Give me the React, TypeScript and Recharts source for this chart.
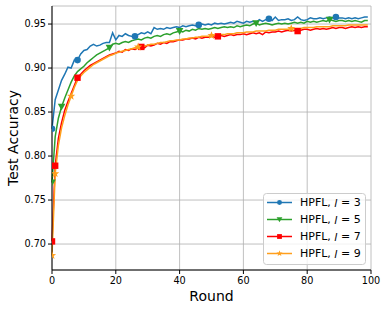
import { LineChart, Line, XAxis, YAxis, CartesianGrid, Legend } from 'recharts';

const rounds = Array.from({ length: 100 }, (_, i) => i);

const accL3 = [
  0.831, 0.864, 0.875, 0.886, 0.893, 0.901, 0.9, 0.909, 0.909, 0.916,
  0.92, 0.921, 0.925, 0.927, 0.925, 0.926, 0.928, 0.929, 0.929, 0.94,
  0.932, 0.937, 0.936, 0.939, 0.937, 0.936, 0.936, 0.938, 0.94, 0.939,
  0.941, 0.939, 0.946, 0.944, 0.945, 0.944, 0.946, 0.945, 0.946, 0.947,
  0.946, 0.948, 0.947, 0.948, 0.949, 0.948, 0.949, 0.95, 0.949, 0.95,
  0.949, 0.951, 0.95, 0.951, 0.95, 0.951, 0.952, 0.951, 0.953, 0.952,
  0.951, 0.953, 0.952, 0.953, 0.952, 0.955, 0.953, 0.955, 0.956, 0.954,
  0.958, 0.954, 0.955, 0.955, 0.956, 0.954, 0.955, 0.958, 0.955, 0.954,
  0.955, 0.957, 0.956, 0.956, 0.957, 0.956, 0.957, 0.958, 0.957, 0.958,
  0.957, 0.957, 0.956, 0.957, 0.956, 0.957, 0.956, 0.957, 0.958, 0.958,
];

const accL5 = [
  0.77, 0.822, 0.843, 0.856, 0.866, 0.875, 0.884, 0.891, 0.896, 0.899,
  0.902, 0.906, 0.909, 0.912, 0.915, 0.917, 0.919, 0.921, 0.923, 0.927,
  0.928, 0.927, 0.929, 0.93, 0.929, 0.931, 0.932, 0.933, 0.932, 0.934,
  0.935, 0.934, 0.936, 0.937, 0.936, 0.938, 0.939, 0.938, 0.94, 0.941,
  0.942, 0.941, 0.943, 0.942, 0.944, 0.943, 0.945, 0.944, 0.945, 0.944,
  0.945, 0.946, 0.945, 0.946, 0.947, 0.946, 0.947, 0.946, 0.948, 0.947,
  0.948, 0.949, 0.948, 0.95, 0.951, 0.949, 0.95, 0.951, 0.95, 0.949,
  0.95, 0.951, 0.95, 0.951, 0.95, 0.951, 0.952, 0.951, 0.952, 0.951,
  0.953, 0.952, 0.953, 0.952, 0.953, 0.954, 0.953, 0.955, 0.954, 0.953,
  0.954, 0.954, 0.953, 0.954, 0.953, 0.954, 0.953, 0.952, 0.954, 0.954,
];

const accL7 = [
  0.703, 0.789, 0.82, 0.838, 0.852, 0.862, 0.871, 0.88, 0.889, 0.893,
  0.897, 0.9, 0.903, 0.905, 0.907, 0.909, 0.911, 0.913, 0.915, 0.916,
  0.917, 0.919, 0.918, 0.921, 0.92, 0.922, 0.921, 0.923, 0.924, 0.923,
  0.926, 0.925, 0.926, 0.928, 0.927, 0.929, 0.928, 0.93, 0.93, 0.931,
  0.932, 0.932, 0.933, 0.933, 0.934, 0.933, 0.935, 0.934, 0.935, 0.935,
  0.936, 0.935, 0.936, 0.937, 0.936, 0.937, 0.938, 0.937, 0.938, 0.938,
  0.939, 0.938, 0.939, 0.94, 0.939, 0.94, 0.938, 0.941, 0.94, 0.941,
  0.941, 0.942, 0.941, 0.942, 0.943, 0.942, 0.943, 0.942, 0.943, 0.944,
  0.944, 0.943, 0.944, 0.945, 0.944, 0.945, 0.944, 0.945, 0.946, 0.945,
  0.946, 0.946, 0.945, 0.946, 0.947, 0.946, 0.947, 0.946, 0.947, 0.947,
];

const accL9 = [
  0.687, 0.78, 0.812, 0.832, 0.846, 0.858, 0.868, 0.878, 0.886, 0.891,
  0.895, 0.898, 0.901, 0.904, 0.906, 0.908, 0.91, 0.912, 0.914, 0.915,
  0.917, 0.918, 0.919, 0.92, 0.921, 0.922, 0.923, 0.924, 0.925, 0.925,
  0.926, 0.927, 0.927, 0.928, 0.929, 0.929, 0.93, 0.931, 0.931, 0.932,
  0.932, 0.933, 0.933, 0.934, 0.934, 0.935, 0.935, 0.936, 0.936, 0.936,
  0.937, 0.937, 0.938, 0.938, 0.938, 0.939, 0.939, 0.939, 0.94, 0.94,
  0.94, 0.941, 0.941, 0.941, 0.942, 0.942, 0.942, 0.942, 0.943, 0.943,
  0.943, 0.944, 0.944, 0.944, 0.944, 0.945, 0.945, 0.945, 0.945, 0.946,
  0.946, 0.946, 0.946, 0.947, 0.947, 0.947, 0.947, 0.947, 0.948, 0.948,
  0.948, 0.948, 0.948, 0.949, 0.949, 0.949, 0.949, 0.949, 0.949, 0.949,
];

// rounds where matplotlib drew a marker
const marksL3 = [0, 8, 26, 46, 68, 89];
const marksL5 = [0, 3, 18, 40, 64, 87];
const marksL7 = [0, 1, 8, 28, 52, 77];
const marksL9 = [0, 1, 6, 27, 50, 75];

const xTicks = [0, 20, 40, 60, 80, 100];
const yTicks = [0.7, 0.75, 0.8, 0.85, 0.9, 0.95];

const series = [
  { key: 'l3', label: '3', color: '#1f77b4', shape: 'circle', marks: marksL3 },
  { key: 'l5', label: '5', color: '#2ca02c', shape: 'triangle', marks: marksL5 },
  { key: 'l7', label: '7', color: '#ff0000', shape: 'square', marks: marksL7 },
  { key: 'l9', label: '9', color: '#ff9f1c', shape: 'star', marks: marksL9 },
];

const data = rounds.map((r, i) => ({
  round: r,
  l3: accL3[i],
  l5: accL5[i],
  l7: accL7[i],
  l9: accL9[i],
}));

const FONT = '"DejaVu Sans", sans-serif';

function Marker({ shape, x, y, color, s = 1 }: { shape: string; x: number; y: number; color: string; s?: number }) {
  if (shape === 'circle') return <circle cx={x} cy={y} r={3.3 * s} fill={color} />;
  if (shape === 'triangle')
    return (
      <polygon
        points={`${x - 3.8 * s},${y - 3 * s} ${x + 3.8 * s},${y - 3 * s} ${x},${y + 3.8 * s}`}
        fill={color}
      />
    );
  if (shape === 'square')
    return <rect x={x - 3.2 * s} y={y - 3.2 * s} width={6.4 * s} height={6.4 * s} fill={color} />;
  const pts: string[] = [];
  for (let k = 0; k < 10; k++) {
    const rad = (k % 2 === 0 ? 4.3 : 1.8) * s;
    const a = -Math.PI / 2 + (k * Math.PI) / 5;
    pts.push(`${x + rad * Math.cos(a)},${y + rad * Math.sin(a)}`);
  }
  return <polygon points={pts.join(' ')} fill={color} />;
}

// markers are clipped to the axes box, like matplotlib does
const makeDot = (marks: number[], color: string, shape: string, id: string) => (props: any) => {
  const { cx, cy, index } = props;
  if (!marks.includes(index)) return <g key={`d-${index}`} />;
  return (
    <g key={`d-${index}`}>
      <defs>
        <clipPath id={`clip-${id}-${index}`}>
          <rect x={52} y={6} width={319} height={264} />
        </clipPath>
      </defs>
      <g clipPath={`url(#clip-${id}-${index})`}>
        <Marker shape={shape} x={cx} y={cy} color={color} />
      </g>
    </g>
  );
};

function LegendBox() {
  return (
    <svg width={103} height={72} style={{ display: 'block' }}>
      <rect x={0.5} y={0.5} width={102} height={71} rx={3} fill="#ffffff" fillOpacity={0.8} stroke="#cccccc" />
      {series.map((s, i) => {
        const y = 9.5 + i * 17;
        return (
          <g key={s.key}>
            <line x1={4} x2={29} y1={y} y2={y} stroke={s.color} strokeWidth={1.5} />
            <Marker shape={s.shape} x={16.5} y={y} color={s.color} s={0.75} />
            <text x={37} y={y} dominantBaseline="central" fontSize={11} fontFamily={FONT} fill="#000">
              HPFL, <tspan fontStyle="italic">l</tspan> = {s.label}
            </text>
          </g>
        );
      })}
    </svg>
  );
}

export default function App() {
  return (
    <div style={{ position: 'absolute', left: 0, top: 0, width: 387, height: 311, background: '#fff' }}>
      <LineChart width={387} height={311} data={data} margin={{ top: 6, right: 16, bottom: 0, left: 0 }}>
        <CartesianGrid stroke="#b0b0b0" strokeWidth={0.8} />
        <XAxis
          dataKey="round"
          type="number"
          domain={[0, 100]}
          ticks={xTicks}
          height={41}
          tickSize={4}
          tickMargin={3}
          stroke="#000"
          tick={{ fill: '#000', fontSize: 9.7, fontFamily: FONT }}
          label={{
            content: () => (
              <text x={211.5} y={296} textAnchor="middle" dominantBaseline="central" fontSize={14} fontFamily={FONT} fill="#000">
                Round
              </text>
            ),
          }}
        />
        <XAxis xAxisId="top" dataKey="round" type="number" domain={[0, 100]} orientation="top" height={0} tick={false} tickLine={false} stroke="#000" />
        <YAxis
          type="number"
          domain={[0.6705, 0.9705]}
          ticks={yTicks}
          width={52}
          tickSize={4}
          tickMargin={2}
          stroke="#000"
          allowDataOverflow
          tickFormatter={(v: number) => v.toFixed(2)}
          tick={{ fill: '#000', fontSize: 9.7, fontFamily: FONT }}
          label={{
            content: () => (
              <text
                x={13}
                y={138}
                transform="rotate(-90 13 138)"
                textAnchor="middle"
                dominantBaseline="central"
                fontSize={14}
                fontFamily={FONT}
                fill="#000"
              >
                Test Accuracy
              </text>
            ),
          }}
        />
        <YAxis yAxisId="right" orientation="right" width={0} domain={[0.6705, 0.9705]} tick={false} tickLine={false} stroke="#000" />
        {series.map((s) => (
          <Line
            key={s.key}
            dataKey={s.key}
            type="linear"
            stroke={s.color}
            strokeWidth={1.5}
            dot={makeDot(s.marks, s.color, s.shape, s.key)}
            activeDot={false}
            isAnimationActive={false}
          />
        ))}
        <Legend
          layout="vertical"
          align="center"
          verticalAlign="middle"
          wrapperStyle={{ position: 'absolute', left: 263, top: 193, width: 103, height: 72 }}
          content={() => <LegendBox />}
        />
      </LineChart>
    </div>
  );
}
